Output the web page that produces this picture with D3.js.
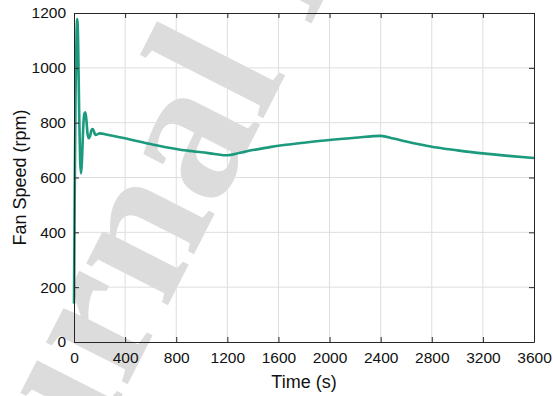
<!DOCTYPE html>
<html>
<head>
<meta charset="utf-8">
<script src="https://cdn.jsdelivr.net/npm/d3@7"></script>
<style>
html,body{margin:0;padding:0;background:#fff;}
svg{display:block;}
</style>
</head>
<body>
<svg id="chart" width="553" height="396"></svg>
<script>
// ---- data ----
const timeS = [0,5,12,20,26,32,40,48,55,62,72,80,89,97,106,115,125,136,146,156,165,172,185,201,
  250,300,400,500,600,700,800,900,1000,1100,1200,1300,1400,1500,1600,1800,2000,2200,2400,
  2500,2600,2700,2800,2900,3000,3200,3400,3600];
const fanRpm = [140,500,900,1130,1178,1100,850,660,615,660,780,830,838,810,760,743,750,772,777,768,757,755,758,761,
  757,752,743,732,722,712,704,697,692,686,681,690,700,708,716,727,737,745,752,
  742,731,721,712,705,699,688,679,671];
const xTicks = [0,400,800,1200,1600,2000,2400,2800,3200,3600];
const yTicks = [0,200,400,600,800,1000,1200];
const xLabel = "Time (s)";
const yLabel = "Fan Speed (rpm)";
const watermark = "Journal Pre-proof";

const svg = d3.select("#chart");
const W = 553, H = 396;
const m = {left:74, right:19, top:13, bottom:54};
const iw = W - m.left - m.right, ih = H - m.top - m.bottom;

// ---- watermark (behind everything) ----
const wmG = svg.append("g").attr("transform", "translate(274,97) rotate(-63)");
const probe = wmG.append("text").attr("font-family","Liberation Serif, Times New Roman, serif")
  .attr("font-weight","bold").attr("font-size",200).text("Journa");
const lenA = probe.node().getComputedTextLength();
probe.text("l");
const lenL = probe.node().getComputedTextLength();
probe.remove();
wmG.append("text")
  .attr("font-family","Liberation Serif, Times New Roman, serif")
  .attr("font-weight","bold").attr("font-size",200)
  .attr("fill","#dcdcdc")
  .attr("x", -(lenA + lenL/2)).attr("y", 0)
  .text(watermark);

const x = d3.scaleLinear().domain([0,3600]).range([0, iw]);
const y = d3.scaleLinear().domain([0,1200]).range([ih, 0]);

const g = svg.append("g").attr("transform", `translate(${m.left},${m.top})`);

// grid
g.append("g").selectAll("line").data(xTicks.slice(1,-1)).join("line")
  .attr("x1", d=>x(d)).attr("x2", d=>x(d)).attr("y1",0).attr("y2",ih)
  .attr("stroke","#dedede").attr("stroke-width",1);
g.append("g").selectAll("line").data(yTicks.slice(1,-1)).join("line")
  .attr("y1", d=>y(d)).attr("y2", d=>y(d)).attr("x1",0).attr("x2",iw)
  .attr("stroke","#dedede").attr("stroke-width",1);

// line
const line = d3.line().x((d,i)=>x(timeS[i])).y(d=>y(d)).curve(d3.curveMonotoneX);
g.append("path").datum(fanRpm).attr("d", line)
  .attr("fill","none").attr("stroke","#1b9a7d").attr("stroke-width",2.6)
  .attr("stroke-linejoin","round");

// axes
const axColor = "#262626";
const font = "Liberation Sans, Arial, Helvetica, sans-serif";
const xAxis = g.append("g").attr("transform",`translate(0,${ih})`)
  .call(d3.axisBottom(x).tickValues(xTicks).tickSizeInner(-5).tickSizeOuter(0).tickPadding(10).tickFormat(d3.format("d")));
const yAxis = g.append("g")
  .call(d3.axisLeft(y).tickValues(yTicks).tickSizeInner(-5).tickSizeOuter(0).tickPadding(8).tickFormat(d3.format("d")));
const xTop = g.append("g")
  .call(d3.axisTop(x).tickValues(xTicks).tickSizeInner(-5).tickSizeOuter(0).tickFormat(""));
const yRight = g.append("g").attr("transform",`translate(${iw},0)`)
  .call(d3.axisRight(y).tickValues(yTicks).tickSizeInner(-5).tickSizeOuter(0).tickFormat(""));
[xAxis,yAxis,xTop,yRight].forEach(a=>{
  a.select(".domain").attr("stroke",axColor).attr("stroke-width",1);
  a.selectAll(".tick line").attr("stroke",axColor).attr("stroke-width",1);
  a.selectAll(".tick text").attr("fill","#111").attr("font-family",font).attr("font-size",15.5);
});

// labels
svg.append("text").attr("x", m.left + iw/2).attr("y", 388)
  .attr("text-anchor","middle").attr("font-family",font).attr("font-size",18).attr("fill","#111")
  .text(xLabel);
svg.append("text").attr("transform",`translate(26,${m.top+ih/2}) rotate(-90)`)
  .attr("text-anchor","middle").attr("font-family",font).attr("font-size",18).attr("fill","#111")
  .text(yLabel);
</script>
</body>
</html>
